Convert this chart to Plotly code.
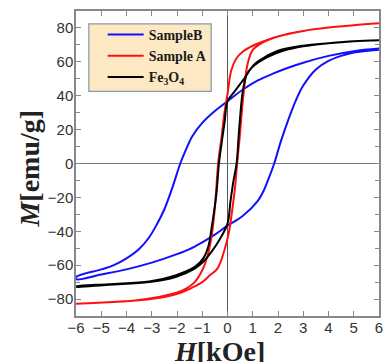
import plotly.graph_objects as go

# ---- Data ----
# Sample B (blue)
b_H_desc = [6, 5, 4, 3, 2.4, 1.8, 1.2, 0.6, 0, -0.5, -1.0, -1.4, -1.65, -1.87, -2.2, -2.5, -2.8, -3.1, -3.5, -4.0, -4.5, -5, -6]
b_M_desc = [67.8, 66.3, 63.5, 59.5, 56.5, 53, 49, 43.5, 36.7, 31, 24, 16, 8, 0, -15, -27, -36, -43.5, -50.5, -56, -60, -62.5, -67]
b_H_asc = [-6, -5, -4, -3, -2, -1.5, -1, -0.5, 0, 0.6, 1.2, 1.4, 1.6, 1.85, 2.1, 2.4, 2.7, 3.0, 3.5, 4.0, 4.5, 5, 6]
b_M_asc = [-68.3, -65.5, -62.5, -58.5, -53.5, -50.5, -46.5, -42, -36.7, -31, -22, -17, -10, 0, 12.5, 25.5, 37, 46, 55.5, 60.5, 63.5, 65.5, 67.2]

# Sample A (red)
a_H_desc = [6, 5, 4, 3, 2, 1.5, 1.0, 0.6, 0.35, 0.15, 0, -0.12, -0.24, -0.37, -0.5, -0.63, -0.8, -1.0, -1.3, -1.8, -2.5, -3.5, -4.5, -6]
a_M_desc = [82.7, 81.6, 80.2, 78.2, 75, 72.5, 69.5, 66, 62, 55, 41, 30, 15, 0, -26, -43, -55, -63, -70, -75, -78, -80.5, -81.7, -82.7]
a_H_asc = [-6, -4.5, -3.5, -2.5, -1.8, -1.3, -1.0, -0.7, -0.4, -0.15, 0.05, 0.2, 0.3, 0.38, 0.48, 0.57, 0.67, 0.8, 1.0, 1.4, 2, 3, 4, 5, 6]
a_M_asc = [-82.7, -81.7, -80.7, -78.8, -76, -72.5, -70, -66, -62, -52.5, -41, -26, -14, 0, 15, 31, 46, 59, 67, 71.5, 75, 78.2, 80.2, 81.6, 82.7]

# Fe3O4 (black)
f_H_desc = [6, 5, 4, 3, 2, 1.45, 1.06, 0.67, 0.28, 0, -0.11, -0.24, -0.34, -0.44, -0.63, -0.76, -0.96, -1.28, -2.06, -3.1, -4.7, -6]
f_M_desc = [72.8, 72.2, 71, 69.5, 66.5, 62.5, 58.5, 50.3, 42.5, 36.7, 25, 11.3, 0, -17.9, -38, -49, -56, -60.9, -66, -69.6, -71.2, -72.6]
f_H_asc = [-6, -4.7, -3.1, -2.06, -1.3, -0.96, -0.63, -0.3, 0, 0.12, 0.24, 0.36, 0.46, 0.6, 0.75, 0.95, 1.2, 1.6, 2.2, 3, 4, 5, 6]
f_M_asc = [-72.8, -71.5, -70, -67, -62, -58, -52, -44.5, -35.5, -22, -10, 0, 20, 42, 52, 56.5, 59.5, 63, 66.5, 69.2, 71, 72.2, 72.8]

series_names = ["<b>SampleB</b>", "<b>Sample A</b>", "<b>Fe<sub>3</sub>O<sub>4</sub></b>"]
series_colors = ["#1010ff", "#ff1010", "#000000"]

x_ticks = [-6, -5, -4, -3, -2, -1, 0, 1, 2, 3, 4, 5, 6]
y_ticks = [-80, -60, -40, -20, 0, 20, 40, 60, 80]

loops = [
    (b_H_desc + b_H_asc, b_M_desc + b_M_asc),
    (a_H_desc + a_H_asc, a_M_desc + a_M_asc),
    (f_H_desc + f_H_asc, f_M_desc + f_M_asc),
]

fig = go.Figure()
for (hx, my), name, col in zip(loops, series_names, series_colors):
    fig.add_trace(go.Scatter(
        x=hx, y=my, mode="lines", name=name,
        line=dict(color=col, width=2, shape="spline", smoothing=1.0),
    ))

W, H = 392, 362
L, R, T, B = 76, 9, 9, 46
pw, ph = W - L - R, H - T - B

def px_x(p):
    return (p - L) / pw

def px_y(p):
    return (H - B - p) / ph

tick_font = dict(family="Liberation Sans, Arial, sans-serif", size=15, color="#333333")

fig.update_layout(
    width=W, height=H,
    margin=dict(l=L, r=R, t=T, b=B),
    paper_bgcolor="white", plot_bgcolor="white",
    showlegend=True,
    legend=dict(
        x=px_x(103), y=px_y(17), xanchor="left", yanchor="top",
        bgcolor="rgba(0,0,0,0)", borderwidth=0,
        font=dict(family="Liberation Serif, Times New Roman, serif", size=14, color="#1a1a1a"),
        itemwidth=36, tracegroupgap=0,
    ),
    xaxis=dict(
        range=[-6, 6], tickvals=x_ticks, ticks="inside", ticklen=5, tickcolor="#888888",
        showline=True, linecolor="#888888", linewidth=1.5, mirror="ticks",
        showgrid=False, zeroline=True, zerolinecolor="#555555", zerolinewidth=1,
        tickfont=tick_font, ticklabelstandoff=-3,
    ),
    yaxis=dict(
        range=[-90, 90], tickvals=y_ticks, ticks="inside", ticklen=5, tickcolor="#888888",
        showline=True, linecolor="#888888", linewidth=1.5, mirror="ticks",
        showgrid=False, zeroline=True, zerolinecolor="#777777", zerolinewidth=1,
        tickfont=tick_font, ticklabelstandoff=-2,
        minor=dict(dtick=10, tick0=0, ticks="inside", ticklen=4, tickcolor="#888888", showgrid=False),
    ),
    shapes=[dict(
        type="rect", xref="paper", yref="paper",
        x0=px_x(89), x1=px_x(213), y0=px_y(90), y1=px_y(22),
        fillcolor="#fce9c4", line=dict(color="#8a96aa", width=1.2), layer="above",
    )],
    annotations=[
        dict(text="<b><i>M</i>[emu/g]</b>", xref="paper", yref="paper",
             x=px_x(29), y=px_y(168), xanchor="center", yanchor="middle",
             textangle=-90, showarrow=False,
             font=dict(family="Liberation Serif, Times New Roman, serif", size=28, color="#222222")),
        dict(text="<b><i>H</i>[kOe]</b>", xref="paper", yref="paper",
             x=px_x(221), y=px_y(352), xanchor="center", yanchor="middle",
             showarrow=False,
             font=dict(family="Liberation Serif, Times New Roman, serif", size=28, color="#222222")),
    ],
)

fig.write_html("out.html")
